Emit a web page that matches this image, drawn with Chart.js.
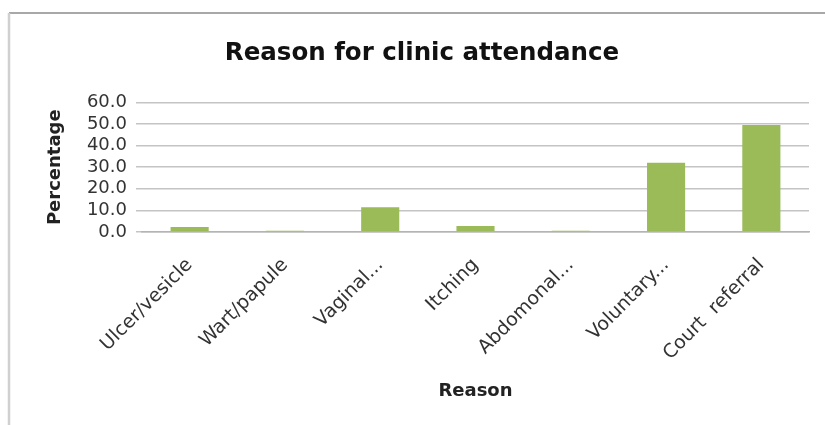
<!DOCTYPE html>
<html>
<head>
<meta charset="utf-8">
<script src="https://cdn.jsdelivr.net/npm/chart.js@4.4.0/dist/chart.umd.min.js"></script>
<style>
  html, body { margin: 0; padding: 0; background: #fff; }
  #wrap { width: 825px; height: 425px; position: relative; }
</style>
</head>
<body>
<div id="wrap"><canvas id="c" width="825" height="425"></canvas></div>
<script>
const categories = ['Ulcer/vesicle', 'Wart/papule', 'Vaginal...', 'Itching', 'Abdomonal...', 'Voluntary...', 'Court  referral'];
const percentages = [2.3, 0.6, 11.5, 2.8, 0.6, 32.1, 49.5];
const yTickLabels = ['0.0', '10.0', '20.0', '30.0', '40.0', '50.0', '60.0'];
const chartTitle = 'Reason for clinic attendance';
const xTitle = 'Reason';
const yTitle = 'Percentage';

const FONT = "'DejaVu Sans', sans-serif";

const frame = {
  id: 'frame',
  beforeDraw(chart) {
    const ctx = chart.ctx;
    ctx.save();
    ctx.fillStyle = '#fff';
    ctx.fillRect(0, 0, chart.width, chart.height);
    ctx.strokeStyle = '#a8a8a8';
    ctx.lineWidth = 2;
    ctx.beginPath();
    ctx.moveTo(9, 13); ctx.lineTo(chart.width, 13);
    ctx.stroke();
    ctx.strokeStyle = '#d0d0d0';
    ctx.lineWidth = 2.5;
    ctx.beginPath();
    ctx.moveTo(9, 13); ctx.lineTo(9, chart.height);
    ctx.stroke();
    ctx.restore();
  }
};

new Chart(document.getElementById('c'), {
  type: 'bar',
  data: {
    labels: categories,
    datasets: [{
      data: percentages,
      backgroundColor: '#9BBB59',
      borderWidth: 0,
      barPercentage: 0.4,
      categoryPercentage: 1.0
    }]
  },
  options: {
    responsive: false,
    animation: false,
    devicePixelRatio: 1,
    layout: { padding: { left: 35, right: 16, top: 12, bottom: 18 } },
    plugins: {
      legend: { display: false },
      tooltip: { enabled: false },
      title: {
        display: true,
        text: chartTitle,
        color: '#111',
        font: { family: FONT, size: 24.5, weight: 'bold' },
        padding: { top: 26.5, bottom: 34.5 }
      }
    },
    scales: {
      x: {
        grid: { display: false, drawTicks: false },
        border: { display: true, color: '#b4b4b4', width: 1.5 },
        ticks: {
          maxRotation: 45, minRotation: 45,
          autoSkip: false,
          padding: 22,
          color: '#333',
          font: { family: FONT, size: 19 }
        },
        title: {
          display: true, text: xTitle, color: '#222',
          font: { family: FONT, size: 18, weight: 'bold' },
          padding: { top: 4, bottom: 5 }
        },
        afterFit(scale) { scale.height = 425 - 18 - 232; }
      },
      y: {
        min: 0, max: 60,
        grid: { color: '#c4c4c4', lineWidth: 1.5, tickLength: 6, drawTicks: true },
        border: { display: false },
        ticks: {
          stepSize: 10,
          autoSkip: false,
          padding: 9,
          color: '#333',
          font: { family: FONT, size: 18 },
          callback: (v, i) => yTickLabels[i]
        },
        title: {
          display: true, text: yTitle, color: '#222',
          font: { family: FONT, size: 18, weight: 'bold' },
          padding: { top: 10, bottom: 0 }
        },
        afterFit(scale) { scale.width = 142 - 35; }
      }
    }
  },
  plugins: [frame]
});
</script>
</body>
</html>
